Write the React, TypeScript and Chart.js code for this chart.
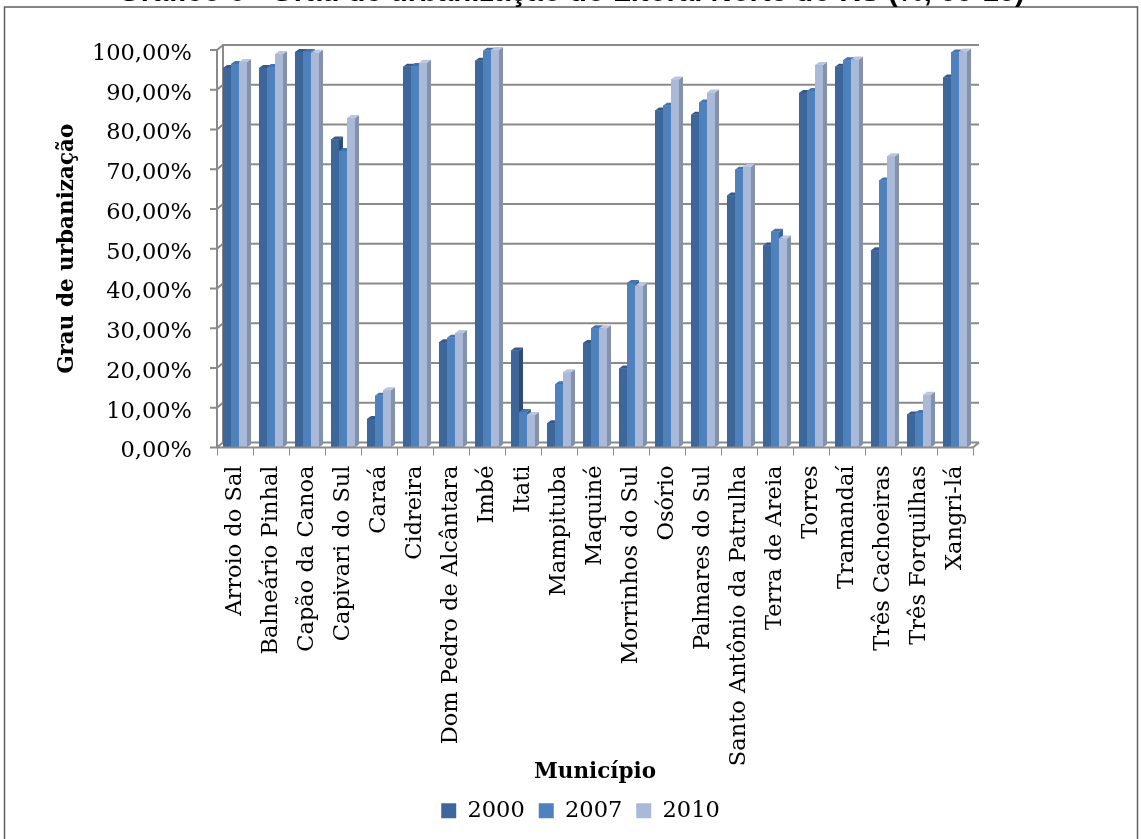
import React, { useEffect, useRef } from "react";
import { Chart, registerables } from "chart.js";

Chart.register(...registerables);
Chart.defaults.font.family = "DejaVu Serif";

const titleText = "Gráfico 6 - Grau de urbanização do Litoral Norte do RS (%, 00-10)";
const xTitle = "Município";
const yTitle = "Grau de urbanização";

const categories = [
  "Arroio do Sal",
  "Balneário Pinhal",
  "Capão da Canoa",
  "Capivari do Sul",
  "Caraá",
  "Cidreira",
  "Dom Pedro de Alcântara",
  "Imbé",
  "Itati",
  "Mampituba",
  "Maquiné",
  "Morrinhos do Sul",
  "Osório",
  "Palmares do Sul",
  "Santo Antônio da Patrulha",
  "Terra de Areia",
  "Torres",
  "Tramandaí",
  "Três Cachoeiras",
  "Três Forquilhas",
  "Xangri-lá",
];

const seriesNames = ["2000", "2007", "2010"];

const values2000 = [95.5, 95.5, 99.5, 77.5, 7.2, 95.8, 26.5, 97.3, 24.4, 6.1, 26.3, 19.9, 84.8, 83.7, 63.4, 50.8, 89.2, 95.8, 49.6, 8.3, 93.1];
const values2007 = [96.5, 95.7, 99.5, 74.6, 13.0, 96.0, 27.6, 99.8, 8.9, 15.9, 30.0, 41.4, 86.0, 86.8, 69.9, 54.3, 89.7, 97.4, 67.2, 8.7, 99.4];
const values2010 = [97.0, 99.0, 99.3, 82.9, 14.4, 96.8, 28.8, 100.0, 8.2, 18.9, 30.0, 40.7, 92.6, 89.3, 70.6, 52.6, 96.2, 97.6, 73.3, 13.3, 99.6];

const yMin = 0;
const yMax = 100;
const yStep = 10;

const frontColors = ["#3d679b", "#4f81bd", "#aab9d8"];
const sideColors = ["#2c4d75", "#3b6495", "#8391ad"];
const capColors = ["#35598a", "#4573ab", "#bac6df"];

const GRID = "#8a8a8a";
const WALL_DX = 6;
const WALL_DY = 5;
const BAR_DX = 4;
const BAR_DY = 3;
const FONT_SIZE = 22.5;

const fmtPct = (v: number) => v.toFixed(2).replace(".", ",") + "%";

const threeD = {
  id: "threeD",
  beforeDatasetsDraw(chart: any) {
    const { ctx, chartArea, scales } = chart;
    const { left, right, top, bottom } = chartArea;
    const y = scales.y;
    ctx.save();
    ctx.strokeStyle = GRID;
    ctx.lineWidth = 2;
    ctx.lineJoin = "miter";
    ctx.beginPath();
    ctx.moveTo(left + WALL_DX, y.getPixelForValue(yMax) - WALL_DY);
    ctx.lineTo(left + WALL_DX, bottom - WALL_DY);
    ctx.stroke();
    for (let v = yMin; v <= yMax; v += yStep) {
      const py = y.getPixelForValue(v);
      ctx.beginPath();
      ctx.moveTo(left - 7, py);
      ctx.lineTo(left, py);
      ctx.lineTo(left + WALL_DX, py - WALL_DY);
      ctx.lineTo(right + WALL_DX, py - WALL_DY);
      ctx.stroke();
    }
    ctx.beginPath();
    ctx.moveTo(left, top);
    ctx.lineTo(left, bottom);
    ctx.stroke();
    ctx.beginPath();
    ctx.moveTo(right, bottom);
    ctx.lineTo(right + WALL_DX, bottom - WALL_DY);
    ctx.stroke();
    ctx.restore();
  },
  afterDatasetsDraw(chart: any) {
    const { ctx, chartArea } = chart;
    const { left, right, bottom } = chartArea;
    ctx.save();
    for (let d = 0; d < chart.data.datasets.length; d++) {
      const meta = chart.getDatasetMeta(d);
      meta.data.forEach((el: any) => {
        const { x, y, base, width } = el.getProps(["x", "y", "base", "width"], true);
        const l = x - width / 2;
        const r = x + width / 2;
        ctx.fillStyle = frontColors[d];
        ctx.fillRect(l, y, width, base - y);
        ctx.fillStyle = sideColors[d];
        ctx.beginPath();
        ctx.moveTo(r, y);
        ctx.lineTo(r + BAR_DX, y - BAR_DY);
        ctx.lineTo(r + BAR_DX, base - BAR_DY);
        ctx.lineTo(r, base);
        ctx.closePath();
        ctx.fill();
        ctx.fillStyle = capColors[d];
        ctx.beginPath();
        ctx.moveTo(l, y);
        ctx.lineTo(l + BAR_DX, y - BAR_DY);
        ctx.lineTo(r + BAR_DX, y - BAR_DY);
        ctx.lineTo(r, y);
        ctx.closePath();
        ctx.fill();
      });
    }
    ctx.strokeStyle = GRID;
    ctx.lineWidth = 2;
    ctx.beginPath();
    ctx.moveTo(left, bottom);
    ctx.lineTo(right, bottom);
    ctx.stroke();
    const n = categories.length;
    const step = (right - left) / n;
    ctx.lineWidth = 1;
    ctx.beginPath();
    for (let i = 0; i <= n; i++) {
      const px = Math.round(left + i * step) + 0.5;
      ctx.moveTo(px, bottom);
      ctx.lineTo(px, bottom + 8);
    }
    ctx.stroke();
    ctx.restore();
  },
  afterDraw(chart: any) {
    const { ctx, width, height } = chart;
    ctx.save();
    ctx.strokeStyle = "#5e5e5e";
    ctx.lineWidth = 1.5;
    ctx.strokeRect(4.5, 7, width - 8, height - 6);
    const targetW = 907;
    ctx.font = 'bold 20px "Liberation Sans"';
    const w20 = ctx.measureText(titleText).width;
    const size = (20 * targetW) / w20;
    ctx.font = `bold ${size}px "Liberation Sans"`;
    ctx.fillStyle = "#000";
    ctx.textAlign = "left";
    ctx.textBaseline = "alphabetic";
    ctx.fillText(titleText, 118, 1);
    ctx.restore();
  },
};

export default function App() {
  const ref = useRef<HTMLCanvasElement | null>(null);
  useEffect(() => {
    if (!ref.current) return;
    const chart = new Chart(ref.current, {
      type: "bar",
      data: {
        labels: categories,
        datasets: [
          { label: seriesNames[0], data: values2000, backgroundColor: frontColors[0], borderWidth: 0 },
          { label: seriesNames[1], data: values2007, backgroundColor: frontColors[1], borderWidth: 0 },
          { label: seriesNames[2], data: values2010, backgroundColor: frontColors[2], borderWidth: 0 },
        ],
      },
      options: {
        animation: false,
        responsive: false,
        maintainAspectRatio: false,
        datasets: { bar: { categoryPercentage: 0.667, barPercentage: 1 } },
        layout: { padding: { top: 50, left: 20, right: 0, bottom: 7 } },
        plugins: {
          legend: {
            position: "bottom",
            labels: {
              boxWidth: 15,
              boxHeight: 15,
              padding: 14,
              color: "#000",
              font: { family: "DejaVu Serif", size: FONT_SIZE },
            },
          },
          tooltip: { enabled: false },
          title: { display: false },
        },
        scales: {
          x: {
            grid: { display: false, drawTicks: false },
            border: { display: false },
            ticks: {
              autoSkip: false,
              maxRotation: 90,
              minRotation: 90,
              padding: 18,
              color: "#000",
              font: { family: "DejaVu Serif", size: FONT_SIZE },
            },
            title: {
              display: true,
              text: xTitle,
              color: "#000",
              padding: 0,
              font: { family: "DejaVu Serif", size: 21.5, weight: "bold" },
            },
            afterFit: (s: any) => {
              s.height = 338;
            },
          },
          y: {
            min: yMin,
            max: yMax,
            grid: { display: false, drawTicks: false },
            border: { display: false },
            ticks: {
              stepSize: yStep,
              padding: 25,
              labelOffset: 4,
              color: "#000",
              font: { family: "DejaVu Serif", size: FONT_SIZE },
              callback: (v: any) => fmtPct(Number(v)),
            },
            title: {
              display: true,
              text: yTitle,
              color: "#000",
              padding: { top: 35, bottom: 0 },
              font: { family: "DejaVu Serif", size: 21.5, weight: "bold" },
            },
            afterFit: (s: any) => {
              s.width = 197;
            },
          },
          yRight: {
            position: "right",
            display: true,
            grid: { display: false, drawTicks: false },
            border: { display: false },
            ticks: { display: false },
            afterFit: (s: any) => {
              s.width = 168;
            },
          },
        },
      } as any,
      plugins: [threeD],
    });
    return () => chart.destroy();
  }, []);

  return (
    <div style={{ position: "absolute", left: 0, top: 0, width: 1141, height: 839, background: "#fff" }}>
      <canvas ref={ref} width={1141} height={839} style={{ display: "block", width: 1141, height: 839 }} />
    </div>
  );
}
